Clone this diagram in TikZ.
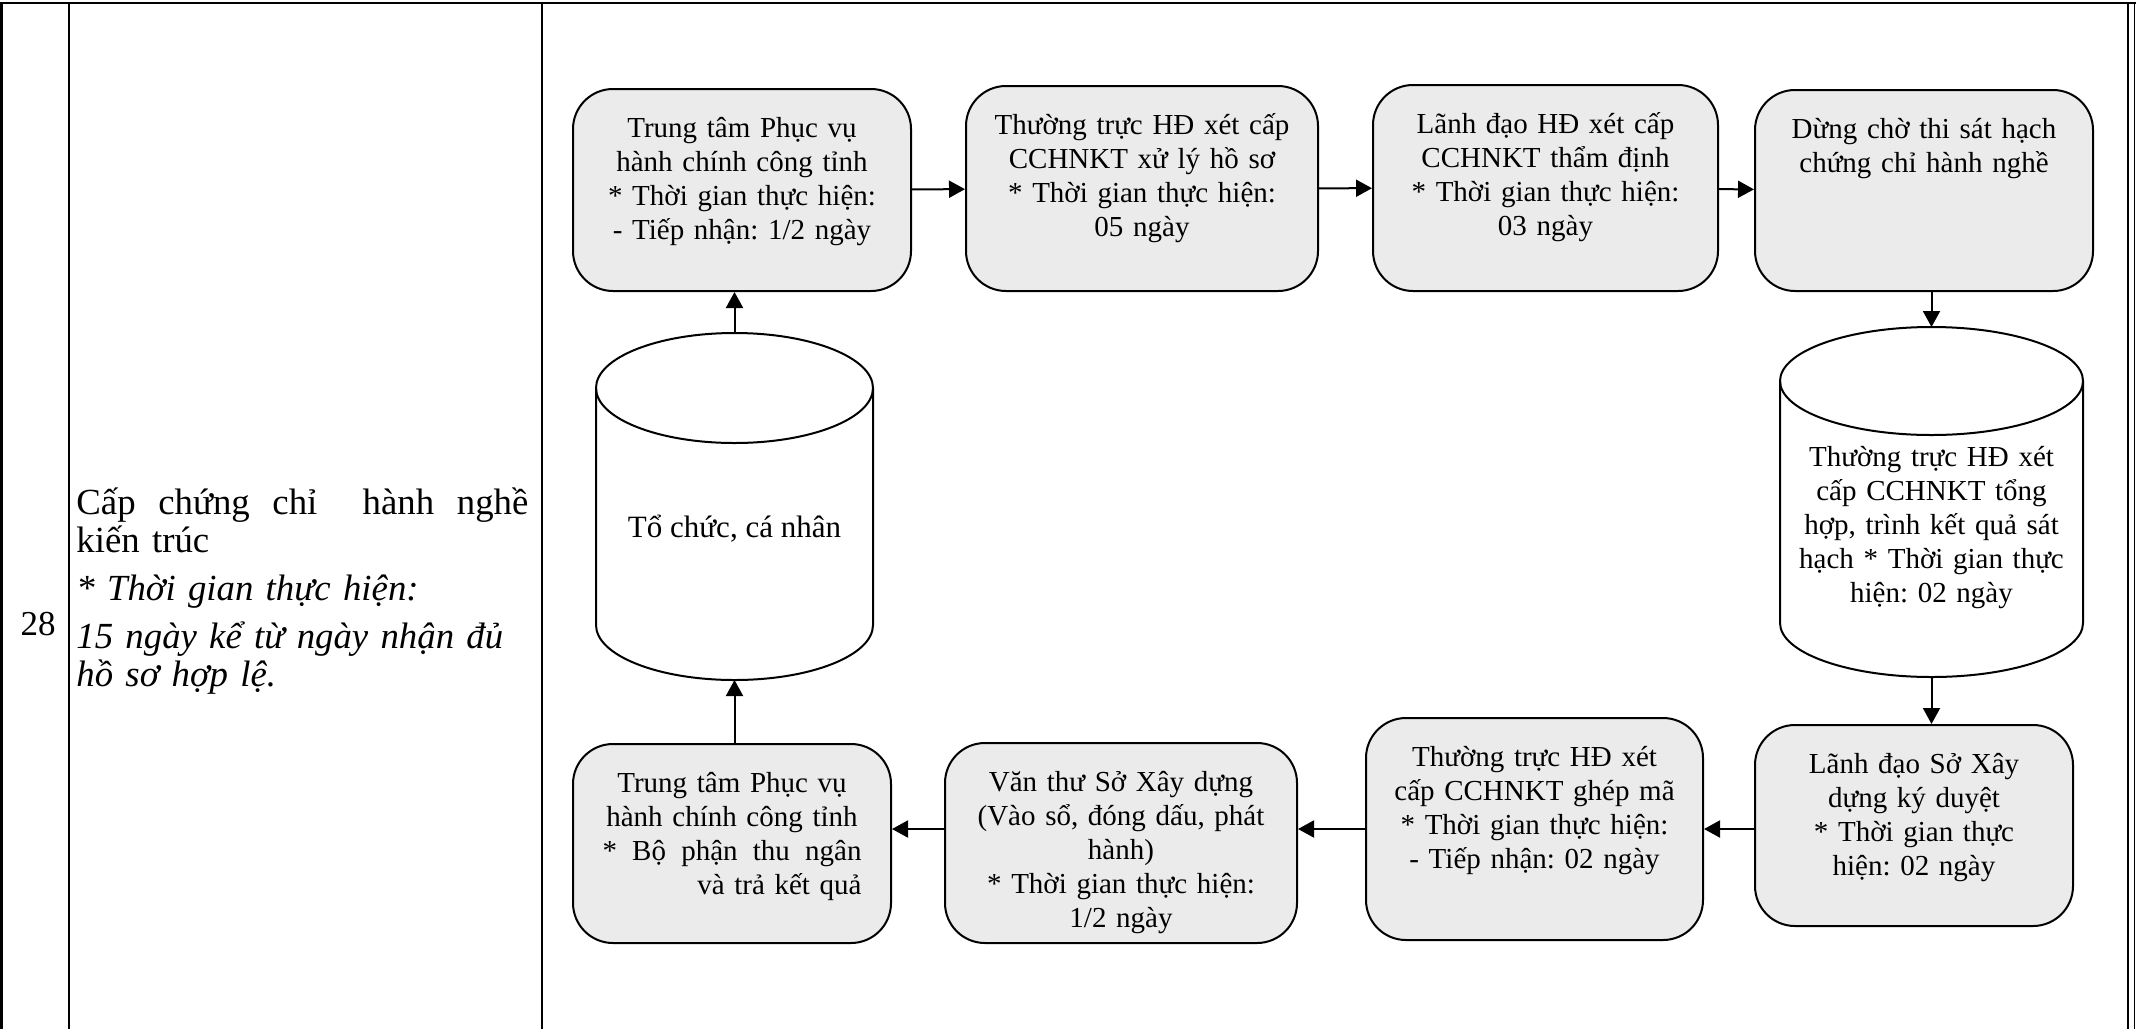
\documentclass[tikz,border=0pt]{standalone}
\usepackage{fontspec}
\setmainfont{Liberation Serif}
\usetikzlibrary{arrows.meta}
\definecolor{boxgray}{RGB}{235,235,235}
\newcommand{\boxfont}{\fontsize{14.5}{17}\selectfont\frenchspacing}
\newcommand{\cellfont}{\fontsize{17.5}{20}\selectfont}
\newcommand{\titlefont}{\fontsize{18.4}{19}\selectfont\frenchspacing}

\begin{document}
\begin{tikzpicture}[x=0.5pt,y=-0.5pt,
  stepbox/.style={draw,line width=1pt,fill=boxgray,rounded corners=20pt,align=center,
    inner xsep=4pt,inner ysep=0pt,text height=24pt,font=\boxfont},
  drum/.style={line width=1pt},
  flow/.style={line width=1pt,-{Triangle[length=8pt,width=8.5pt]}},
  grid/.style={line width=1.2pt}]

\useasboundingbox (0,0) rectangle (2136,1029);

% table
\draw[grid] (0,3) -- (2136,3);
\draw[grid] (1.5,3) -- (1.5,1029);
\draw[grid] (69,3) -- (69,1029);
\draw[grid] (542,3) -- (542,1029);
\draw[grid] (2128,3) -- (2128,1029);
\draw[line width=0.6pt] (2134.5,3) -- (2134.5,1029);

\node[font=\cellfont] (no) at (38,624) {28};
\node[font=\titlefont,text width=226pt,align=left,inner sep=0pt,anchor=base west] (title) at (76,514)
  {\makebox[226pt]{Cấp\hfill chứng\hfill chỉ\hfill\hfill hành\hfill nghề}\\ kiến trúc\\[5pt]
   \textit{* Thời gian thực hiện:}\\[5pt]
   \textit{15 ngày kể từ ngày nhận đủ}\\ \textit{hồ sơ hợp lệ.}};

% top row
\node[stepbox,text width=161pt,text depth=77pt] (recv) at (742,190)
  {Trung tâm Phục vụ\\ hành chính công tỉnh\\ {*} Thời gian thực hiện:\\ - Tiếp nhận: 1/2 ngày};
\node[stepbox,text width=168pt,text depth=78.5pt] (check) at (1142,188.5)
  {Thường trực HĐ xét cấp\\ CCHNKT xử lý hồ sơ\\ {*} Thời gian thực hiện:\\ 05 ngày};
\node[stepbox,text width=164.5pt,text depth=79pt] (approve) at (1545.5,188)
  {Lãnh đạo HĐ xét cấp\\ CCHNKT thẩm định\\ {*} Thời gian thực hiện:\\ 03 ngày};
\node[stepbox,text width=161pt,text depth=76.5pt] (exam) at (1924,190.5)
  {Dừng chờ thi sát hạch\\ chứng chỉ hành nghề};

% bottom row
\node[stepbox,text width=151pt,text depth=76.5pt] (sign) at (1914,825.5)
  {Lãnh đạo Sở Xây\\ dựng ký duyệt\\ {*} Thời gian thực\\ hiện: 02 ngày};
\node[stepbox,text width=160.5pt,text depth=87pt] (code) at (1534.5,829)
  {Thường trực HĐ xét\\ cấp CCHNKT ghép mã\\ {*} Thời gian thực hiện:\\ - Tiếp nhận: 02 ngày};
\node[stepbox,text width=168pt,text depth=76pt] (clerk) at (1121,843)
  {Văn thư Sở Xây dựng\\ (Vào sổ, đóng dấu, phát\\ hành)\\ {*} Thời gian thực hiện:\\ 1/2 ngày};
\node[stepbox,text width=151pt,text depth=75.5pt] (deliver) at (732,843.5)
  {Trung tâm Phục vụ\\ hành chính công tỉnh\\
   \makebox[129.5pt]{*\hfill Bộ\hfill phận\hfill thu\hfill ngân}\\ \makebox[129.5pt][r]{và trả kết quả}};

% cylinders
\draw[drum] (734.5,388) ellipse [x radius=69.25pt,y radius=27.5pt];
\draw[drum] (596,388) -- (596,625) arc [start angle=180,end angle=360,x radius=69.25pt,y radius=27.5pt] -- (873,388);
\coordinate (org-top) at (734.5,333);
\coordinate (org-bot) at (734.5,680);
\node[font=\fontsize{15.5}{18}\selectfont,anchor=base] (org) at (734.5,537) {Tổ chức, cá nhân};

\draw[drum] (1931.5,381) ellipse [x radius=75.75pt,y radius=27pt];
\draw[drum] (1780,381) -- (1780,623) arc [start angle=180,end angle=360,x radius=75.75pt,y radius=27pt] -- (2083,381);
\coordinate (sum-top) at (1931.5,327);
\coordinate (sum-bot) at (1931.5,677);
\node[font=\boxfont,text width=140pt,align=center,anchor=base] (sum) at (1931.5,466)
  {Thường trực HĐ xét\\ cấp CCHNKT tổng\\ hợp, trình kết quả sát\\ hạch * Thời gian thực\\ hiện: 02 ngày};

% flow
\draw[flow] (recv) -- (check);
\draw[flow] (check) -- (approve);
\draw[flow] (approve) -- (exam);
\draw[flow] (exam.south -| sum-top) -- (sum-top);
\draw[flow] (sum-bot) -- (sum-bot |- sign.north);
\draw[flow] (sign.west |- code.west) -- (code.east);
\draw[flow] (code.west) -- (code.west -| clerk.east);
\draw[flow] (clerk.west |- code.west) -- (deliver.east |- code.west);
\draw[flow] (deliver.north -| org-bot) -- (org-bot);
\draw[flow] (org-top) -- (org-top |- recv.south);
\end{tikzpicture}
\end{document}
